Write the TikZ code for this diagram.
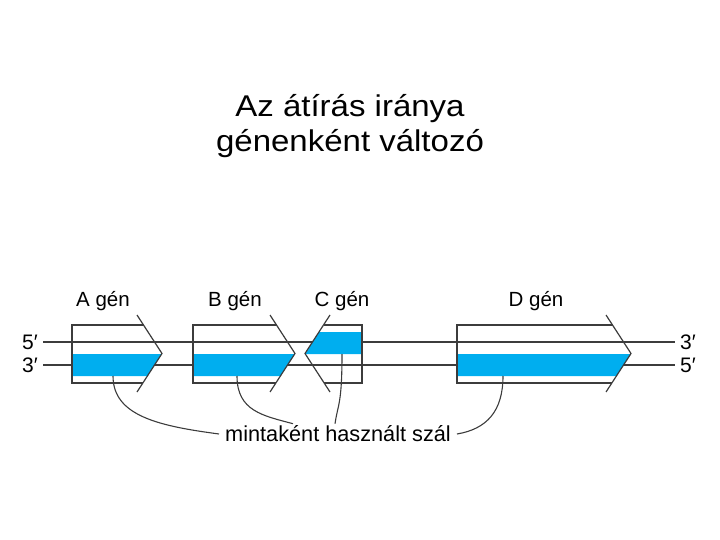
\documentclass[tikz,border=0pt]{standalone}
\usepackage{fontspec}
\setmainfont{Liberation Sans}
\newfontfamily\titlefont[FakeStretch=1.1]{Liberation Sans}
\usetikzlibrary{calc}
\definecolor{tmplblue}{RGB}{0,174,239}
\definecolor{linegray}{RGB}{60,60,60}

\begin{document}
\begin{tikzpicture}[
  x=1pt, y=-1pt,
  strand/.style={draw=linegray, line width=1.2pt},
  genebox/.style={draw=linegray, line width=1.2pt},
  tmplfill/.style={fill=tmplblue},
  callout/.style={draw=linegray, line width=1.1pt},
  genelabel/.style={font=\fontsize{20.5}{24}\selectfont, inner sep=0pt},
  endlabel/.style={font=\fontsize{21}{24}\selectfont, inner sep=0pt},
]
  \useasboundingbox (0,0) rectangle (720,540);

  % title
  \node[align=center, font=\titlefont\fontsize{30}{35}\selectfont] (title) at (350,126)
    {Az átírás iránya\\génenként változó};

  % the two strands
  \coordinate (topL) at (43,342);
  \coordinate (topR) at (675,342);
  \coordinate (botL) at (43,365);
  \coordinate (botR) at (675,365);
  \draw[strand] (topL) -- (topR);
  \draw[strand] (botL) -- (botR);
  \node[endlabel, anchor=east] (endTL) at ($(topL)+(-5,0)$) {5′};
  \node[endlabel, anchor=east] (endBL) at ($(botL)+(-5,0)$) {3′};
  \node[endlabel, anchor=west] (endTR) at ($(topR)+(5,0)$) {3′};
  \node[endlabel, anchor=west] (endBR) at ($(botR)+(5,0)$) {5′};

  % genes read to the right (A, B, D): left edge / tip
  \foreach \l/\t in {72/162, 193/295, 457/631} {
    \fill[tmplfill] (\l,354) -- ({\t-0.3},354) -- ({\t-14.6},376) -- (\l,376) -- cycle;
    \draw[genebox] ({\t-18.5},325) -- (\l,325) -- (\l,383) -- ({\t-19.1},383);
    \draw[genebox] ({\t-25},315) -- (\t,353.5) -- ({\t-25},392);
  }

  % gene C reads to the left
  \fill[tmplfill] (362,332) -- (319,332) -- (305.3,354) -- (362,354) -- cycle;
  \draw[genebox] (323.5,325) -- (362,325) -- (362,383) -- (324.2,383);
  \draw[genebox] (330,315) -- (305,353.5) -- (330,392);

  \node[genelabel] (labA) at (103,301) {A gén};
  \node[genelabel] (labB) at (235,301) {B gén};
  \node[genelabel] (labC) at (342,301) {C gén};
  \node[genelabel] (labD) at (536,301) {D gén};

  % template strand callouts
  \node[font=\fontsize{21.7}{24}\selectfont, inner sep=2pt] (tmpl) at (338,434)
    {mintaként használt szál};
  \coordinate (Astart) at (113,376);
  \coordinate (Bstart) at (237,376);
  \coordinate (Cstart) at (342,354);
  \coordinate (Dstart) at (503,376);
  \coordinate (Bend) at ($(tmpl.north)+(-45,0)$);
  \coordinate (Cend) at ($(tmpl.north)+(-3,0)$);

  \draw[callout] (Astart) .. controls +(0,40) and +(-60,-8) .. ([xshift=-4pt]tmpl.west);
  \draw[callout] (Bstart) .. controls +(0,35) and +(-30,-8) .. (Bend);
  \draw[callout] (Cstart) .. controls +(0,50) and +(3,-20) .. (Cend);
  \draw[callout] (Dstart) .. controls +(0,35) and +(30,-5) .. ([xshift=4pt]tmpl.east);
\end{tikzpicture}
\end{document}
